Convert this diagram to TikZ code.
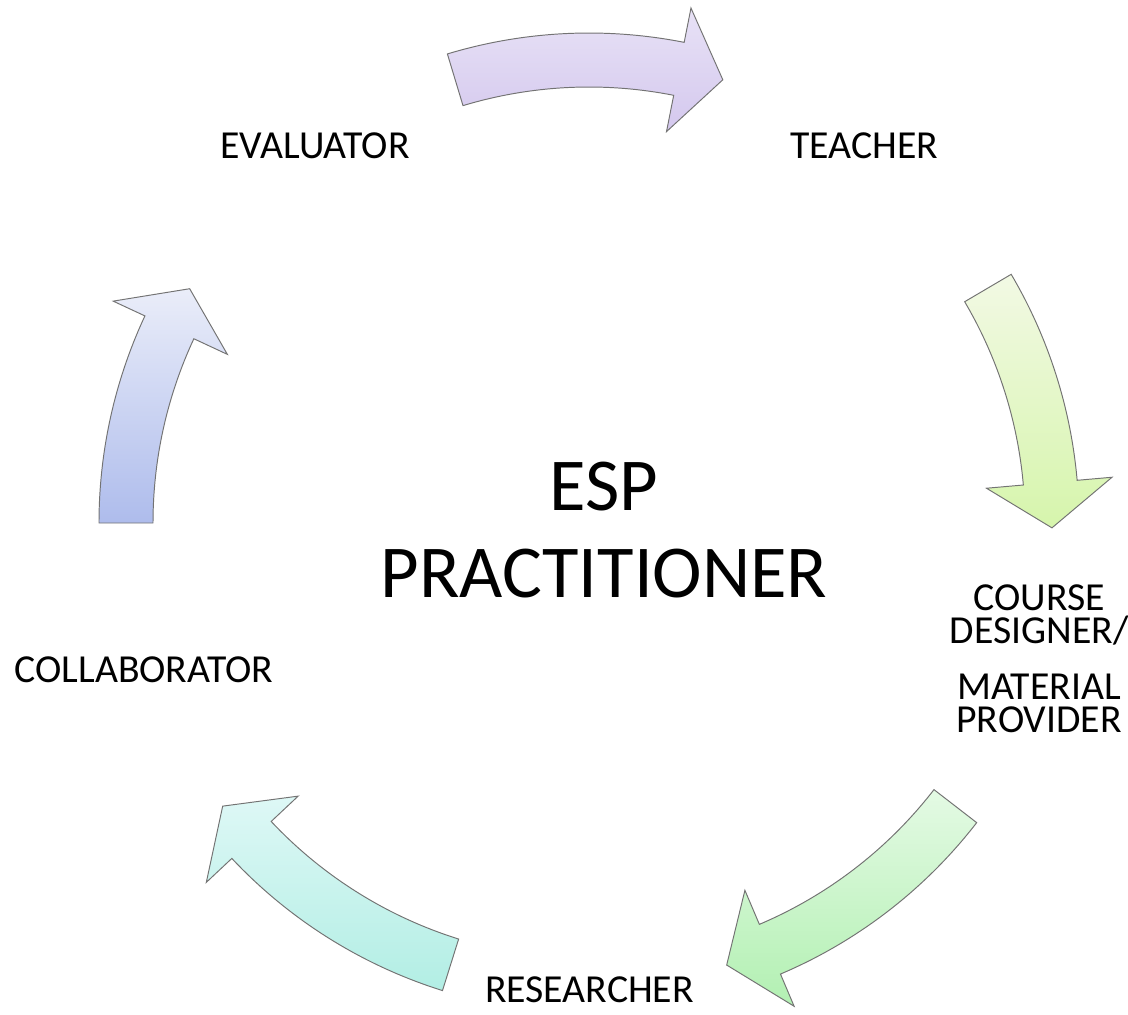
\documentclass[tikz,border=0pt]{standalone}
\usepackage{fontspec}
\setmainfont{Carlito}
\newcommand\cyclearrow[5]{%
  \path[arrowline, top color=#4, bottom color=#5]
    (#1:490) arc[start angle=#1, end angle=#2, radius=490]
    -- (#2:525) -- (#3:463) -- (#2:399) -- (#2:436)
    arc[start angle=#2, end angle=#1, radius=436] -- cycle;}
\definecolor{purT}{RGB}{232,226,246}
\definecolor{purB}{RGB}{212,200,238}
\definecolor{ylgT}{RGB}{242,249,228}
\definecolor{ylgB}{RGB}{214,245,172}
\definecolor{grnT}{RGB}{228,250,228}
\definecolor{grnB}{RGB}{178,240,178}
\definecolor{cyaT}{RGB}{222,248,246}
\definecolor{cyaB}{RGB}{178,238,228}
\definecolor{bluT}{RGB}{234,237,249}
\definecolor{bluB}{RGB}{174,188,236}
\tikzset{
  arrowline/.style={draw={rgb,255:red,115;green,115;blue,115}, line width=0.55pt, line join=miter},
  rolelabel/.style={font=\fontsize{22.6}{27}\selectfont, inner sep=0pt, anchor=base},
}
\begin{document}
\begin{tikzpicture}[x=0.02cm,y=0.02cm]
\useasboundingbox (0,0) rectangle (1128,-1014);
\begin{scope}[shift={(589,-523)}]
  \cyclearrow{106.8}{78.8}{73.2}{purT}{purB}
  \cyclearrow{30.5}{5.0}{-0.6}{ylgT}{ylgB}
  \cyclearrow{-37.7}{-67.0}{-72.7}{grnT}{grnB}
  \cyclearrow{-107.4}{-136.8}{-142.3}{cyaT}{cyaB}
  \cyclearrow{180}{155}{149.6}{bluT}{bluB}
\end{scope}
\node[rolelabel] (evaluator) at (315,-158) {EVALUATOR};
\node[rolelabel] (teacher) at (864.5,-158) {TEACHER};
\node[rolelabel] (collab) at (144,-682) {COLLABORATOR};
\node[rolelabel] (researcher) at (589.5,-1002) {RESEARCHER};
\node[font=\fontsize{22.6}{19}\selectfont, align=center, inner sep=0pt] (designer) at (1039,-658.5)
  {COURSE\\DESIGNER/\\[12.7pt]MATERIAL\\PROVIDER};
\node[font=\fontsize{42.5}{49.5}\selectfont, align=center, inner sep=0pt] (esp) at (604,-530.5)
  {ESP\\PRACTITIONER};
\end{tikzpicture}
\end{document}
